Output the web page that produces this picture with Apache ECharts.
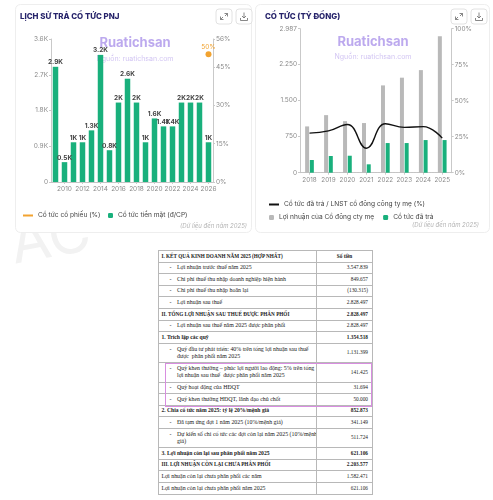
<!DOCTYPE html>
<html><head><meta charset="utf-8">
<script src="https://cdn.jsdelivr.net/npm/echarts@6/dist/echarts.min.js"></script>
<style>
html,body{margin:0;padding:0;background:#fff;}
#c{position:absolute;left:0;top:0;width:493px;height:500px;}
#t{position:absolute;left:158px;top:250px;width:214px;border-collapse:collapse;font-family:'Liberation Serif','DejaVu Serif',serif;font-size:5.9px;color:#1a1a1a;background:#fff;border:1px solid #8a8a8a;table-layout:fixed;}
#t td{border:1px solid #b8b8b8;padding:0;line-height:7.4px;height:10.6px;vertical-align:middle;white-space:pre;overflow:hidden;}
#t td.l{padding-left:2.4px;}
#t td.i{padding-left:18px;}
#t td.v{text-align:right;padding-right:4px;font-size:5.3px;}
#t tr.b td{font-weight:bold;}
#t tr.b td.l{font-size:5.65px;}
#t tr.cap td.l{font-size:5.2px;}
#t tr.h td.v{text-align:center;padding-right:0;}
#t .bul{display:inline-block;width:7.4px;margin-left:-7.4px;}
#t tr.d td{height:18.4px;}
#pink{position:absolute;left:165px;top:363px;width:205px;height:42px;border:1px solid #d88ee0;}
</style></head><body>
<div id="c"></div>
<table id="t"><colgroup><col style="width:158px"><col style="width:56px"></colgroup><tbody id="tb"></tbody></table>
<div id="pink"></div>
<script>
// ---- Chart 1: LỊCH SỬ TRẢ CỔ TỨC PNJ ----
const years1 = ['2009','2010','2011','2012','2013','2014','2015','2016','2017','2018','2019','2020','2021','2022','2023','2024','2025','2026'];
const cashDividend = [2900,500,1000,1000,1300,3200,800,2000,2600,2000,1000,1600,1400,1400,2000,2000,2000,1000];
const stockDividend = [null,null,null,null,null,null,null,null,null,null,null,null,null,null,null,null,null,50];

// ---- Chart 2: CỔ TỨC (TỶ ĐỒNG) ----
const years2 = ['2018','2019','2020','2021','2022','2023','2024','2025'];
const parentProfit = [960,1194,1069,1030,1811,1971,2128,2829];
const dividendPaid = [263,346,352,174,615,615,677,677];
const payoutRatio = [27.5,29,33.5,17,34,31.5,32,24];

// ---- Table ----
const tableLabels = [
 'I. KẾT QUẢ KINH DOANH NĂM 2025 (HỢP NHẤT)',
 'Lợi nhuận trước thuế năm 2025',
 'Chi phí thuế thu nhập doanh nghiệp hiện hành',
 'Chi phí thuế thu nhập hoãn lại',
 'Lợi nhuận sau thuế',
 'II. TỔNG LỢI NHUẬN SAU THUẾ ĐƯỢC PHÂN PHỐI',
 'Lợi nhuận sau thuế năm 2025 được phân phối',
 '1. Trích lập các quỹ',
 'Quỹ đầu tư phát triển: 40% trên tổng lợi nhuận sau thuế\nđược  phân phối năm 2025',
 'Quỹ khen thưởng – phúc lợi người lao động: 5% trên tổng\nlợi nhuận sau thuế  được phân phối năm 2025',
 'Quỹ hoạt động của HĐQT',
 'Quỹ khen thưởng HĐQT, lãnh đạo chủ chốt',
 '2. Chia cổ tức năm 2025: tỷ lệ 20%/mệnh giá',
 'Đã tạm ứng đợt 1 năm 2025 (10%/mệnh giá)',
 'Dự kiến số chi cổ tức các đợt còn lại năm 2025 (10%/mệnh\ngiá)',
 '3. Lợi nhuận còn lại sau phân phối năm 2025',
 'III. LỢI NHUẬN CÒN LẠI CHƯA PHÂN PHỐI',
 'Lợi nhuận còn lại chưa phân phối các năm',
 'Lợi nhuận còn lại chưa phân phối năm 2025'
];
const tableValues = ['Số tiền','3.547.839','849.657','(130.315)','2.828.497','2.828.497','2.828.497','1.354.518','1.131.399','141.425','31.694','50.000','852.873','341.149','511.724','621.106','2.203.577','1.582.471','621.106'];
const tableKinds = ['h','i','i','i','i','B','i','b','i','i','i','i','b','i','i','b','B','p','p'];

const tb = document.getElementById('tb');
tableLabels.forEach((lab, k) => {
  const kind = tableKinds[k];
  const tr = document.createElement('tr');
  const cls = [];
  if (kind === 'h' || kind === 'b' || kind === 'B') cls.push('b');
  if (kind === 'h' || kind === 'B') cls.push('cap');
  if (kind === 'h') cls.push('h');
  if (lab.indexOf('\n') >= 0) cls.push('d');
  tr.className = cls.join(' ');
  const td1 = document.createElement('td');
  const td2 = document.createElement('td');
  if (kind === 'i') {
    td1.className = 'i';
    td1.innerHTML = '<span class="bul">-</span>';
    td1.appendChild(document.createTextNode(lab));
  } else {
    td1.className = 'l';
    td1.textContent = lab;
  }
  td2.className = 'v';
  td2.textContent = tableValues[k];
  tr.appendChild(td1); tr.appendChild(td2);
  tb.appendChild(tr);
});

const FONT = 'Inter, "Noto Sans", sans-serif';
const GREEN = '#19b07c';
const AX = '#c9c9c9';
const LBL = '#8a8a8a';

function icons(x, y) {
  const s = {stroke: '#6a6a6a', lineWidth: 0.8, fill: null};
  return [
    {type:'rect', shape:{x:x, y:y, width:16, height:15, r:3}, style:{fill:'#fff', stroke:'#e2e2e2', lineWidth:1}},
    {type:'polyline', shape:{points:[[x+8.5,y+4.5],[x+11.5,y+4.5],[x+11.5,y+7.5]]}, style:s},
    {type:'line', shape:{x1:x+11.5,y1:y+4.5,x2:x+9,y2:y+7}, style:s},
    {type:'polyline', shape:{points:[[x+4.5,y+7.5],[x+4.5,y+10.5],[x+7.5,y+10.5]]}, style:s},
    {type:'line', shape:{x1:x+4.5,y1:y+10.5,x2:x+7,y2:y+8}, style:s},
    {type:'rect', shape:{x:x+20, y:y, width:16, height:15, r:3}, style:{fill:'#fff', stroke:'#e2e2e2', lineWidth:1}},
    {type:'line', shape:{x1:x+28,y1:y+3.5,x2:x+28,y2:y+9}, style:s},
    {type:'polyline', shape:{points:[[x+26,y+7],[x+28,y+9],[x+30,y+7]]}, style:s},
    {type:'polyline', shape:{points:[[x+24.5,y+9],[x+24.5,y+11.5],[x+31.5,y+11.5],[x+31.5,y+9]]}, style:s}
  ];
}

const dotFmt = v => String(Math.round(v)).replace(/\B(?=(\d{3})+(?!\d))/g, '.');
const kFmt = v => v === 0 ? '0' : (v / 1000) + 'K';

const chart = echarts.init(document.getElementById('c'), null, {renderer: 'canvas'});
const LEG = {fontSize:6.6, color:'#444', fontFamily:FONT};
const option = {
  animation: false,
  backgroundColor: '#fff',
  textStyle: {fontFamily: FONT},
  graphic: [
    {type:'text', z:-10, rotation:0.18, x:6, y:218, style:{text:'ẦC', fontSize:58, fontFamily:FONT, fill:'#f2f2f2'}},
    {type:'rect', z:-5, shape:{x:15.5, y:4.5, width:236, height:228, r:5}, style:{fill:'#fff', stroke:'#eeeeee', lineWidth:1}},
    {type:'rect', z:-5, shape:{x:255.5, y:4.5, width:234, height:228, r:5}, style:{fill:'#fff', stroke:'#eeeeee', lineWidth:1}},
    {type:'text', x:20, y:17, style:{text:'LỊCH SỬ TRẢ CỔ TỨC PNJ', fontSize:7.9, fontWeight:800, fontFamily:FONT, fill:'#27246b', verticalAlign:'middle'}},
    {type:'text', x:265, y:17, style:{text:'CỔ TỨC (TỶ ĐỒNG)', fontSize:7.9, fontWeight:800, fontFamily:FONT, fill:'#27246b', verticalAlign:'middle'}},
    {type:'text', x:135, y:43, style:{text:'Ruatichsan', fontSize:13, fontWeight:'bold', fontFamily:FONT, fill:'rgba(165,140,232,0.75)', align:'center', verticalAlign:'middle'}},
    {type:'text', x:135, y:59, style:{text:'Nguồn: ruatichsan.com', fontSize:7, fontFamily:FONT, fill:'rgba(165,140,232,0.5)', align:'center', verticalAlign:'middle'}},
    {type:'text', x:373, y:42, style:{text:'Ruatichsan', fontSize:13, fontWeight:'bold', fontFamily:FONT, fill:'rgba(165,140,232,0.75)', align:'center', verticalAlign:'middle'}},
    {type:'text', x:373, y:57, style:{text:'Nguồn: ruatichsan.com', fontSize:7, fontFamily:FONT, fill:'rgba(165,140,232,0.5)', align:'center', verticalAlign:'middle'}},
    {type:'text', x:247, y:226, style:{text:'(Dữ liệu đến năm 2025)', fontSize:6, fontStyle:'italic', fontFamily:FONT, fill:'#b3b3b3', align:'right', verticalAlign:'middle'}},
    {type:'text', x:479, y:225, style:{text:'(Dữ liệu đến năm 2025)', fontSize:6, fontStyle:'italic', fontFamily:FONT, fill:'#b3b3b3', align:'right', verticalAlign:'middle'}},
    ...icons(216, 9),
    ...icons(451, 9)
  ],
  legend: [
    {data:['Cổ tức cổ phiếu (%)'], left:18, top:207, icon:'rect', itemWidth:10, itemHeight:2, selectedMode:false, textStyle:LEG},
    {data:['Cổ tức tiền mặt (đ/CP)'], left:103, top:207, icon:'roundRect', itemWidth:5, itemHeight:5, selectedMode:false, textStyle:LEG},
    {data:['Cổ tức đã trả / LNST cổ đông công ty mẹ (%)'], left:264, top:196, icon:'rect', itemWidth:10, itemHeight:2, selectedMode:false, textStyle:LEG},
    {data:['Lợi nhuận của Cổ đông cty mẹ','Cổ tức đã trả'], left:264, top:209, icon:'roundRect', itemWidth:5, itemHeight:5, itemGap:9, selectedMode:false, textStyle:LEG}
  ],
  grid: [
    {left:51, top:39, width:162, height:143},
    {left:300, top:28.7, width:151.7, height:144}
  ],
  xAxis: [
    {type:'category', gridIndex:0, data:years1, boundaryGap:true,
     axisLine:{lineStyle:{color:AX}},
     axisTick:{show:true, length:2, alignWithLabel:true, interval:(i,v)=>(+v)%2===0, lineStyle:{color:AX}},
     axisLabel:{interval:(i,v)=>(+v)%2===0, fontSize:6.5, color:LBL, margin:4}},
    {type:'category', gridIndex:0, data:years1, position:'top',
     axisLine:{lineStyle:{color:'#c4c4c4', type:[1.5,1.5]}}, axisTick:{show:false}, axisLabel:{show:false}},
    {type:'category', gridIndex:1, data:years2, boundaryGap:true,
     axisLine:{lineStyle:{color:AX}},
     axisTick:{show:true, length:2, alignWithLabel:true, interval:0, lineStyle:{color:AX}},
     axisLabel:{interval:0, fontSize:6.3, color:LBL, margin:4}},
    {type:'category', gridIndex:1, data:years2, position:'top',
     axisLine:{lineStyle:{color:'#c4c4c4', type:[1.5,1.5]}}, axisTick:{show:false}, axisLabel:{show:false}}
  ],
  yAxis: [
    {type:'value', gridIndex:0, min:0, max:3600, interval:900, splitLine:{show:false},
     axisLine:{show:true, lineStyle:{color:AX}}, axisTick:{show:true, length:2, lineStyle:{color:AX}},
     axisLabel:{formatter:kFmt, fontSize:6.5, color:LBL, margin:3}},
    {type:'value', gridIndex:0, min:0, max:56, interval:15, position:'right', splitLine:{show:false},
     axisLine:{show:true, lineStyle:{color:AX}}, axisTick:{show:true, length:2, lineStyle:{color:AX}},
     axisLabel:{formatter:'{value}%', fontSize:6.5, color:LBL, margin:3}},
    {type:'value', gridIndex:1, min:0, max:2987, interval:750, splitLine:{show:false},
     axisLine:{show:true, lineStyle:{color:AX}}, axisTick:{show:true, length:2, lineStyle:{color:AX}},
     axisLabel:{formatter:dotFmt, fontSize:6.5, color:LBL, margin:3}},
    {type:'value', gridIndex:1, min:0, max:100, interval:25, position:'right', splitLine:{show:false},
     axisLine:{show:true, lineStyle:{color:AX}}, axisTick:{show:true, length:2, lineStyle:{color:AX}},
     axisLabel:{formatter:'{value}%', fontSize:6.5, color:LBL, margin:3}}
  ],
  series: [
    {name:'Cổ tức tiền mặt (đ/CP)', type:'bar', xAxisIndex:0, yAxisIndex:0, data:cashDividend, barWidth:5.5,
     itemStyle:{color:GREEN},
     label:{show:true, position:'top', distance:1, formatter:p=>kFmt(p.value), fontSize:6.5, fontWeight:'bold', color:'#444', fontFamily:FONT}},
    {name:'Cổ tức cổ phiếu (%)', type:'line', xAxisIndex:0, yAxisIndex:1, data:stockDividend, symbol:'circle', symbolSize:6,
     itemStyle:{color:'#f2a330'}, lineStyle:{color:'#f2a330'},
     label:{show:true, position:'top', distance:1, formatter:'{c}%', fontSize:6.5, color:'#f2a330', fontFamily:FONT}},
    {name:'Lợi nhuận của Cổ đông cty mẹ', type:'bar', xAxisIndex:2, yAxisIndex:2, data:parentProfit, barWidth:4, barGap:'18%',
     itemStyle:{color:'#b9b9b9'}},
    {name:'Cổ tức đã trả', type:'bar', xAxisIndex:2, yAxisIndex:2, data:dividendPaid, barWidth:4, barGap:'18%',
     itemStyle:{color:GREEN}},
    {name:'Cổ tức đã trả / LNST cổ đông công ty mẹ (%)', type:'line', xAxisIndex:2, yAxisIndex:3, data:payoutRatio,
     smooth:0.45, showSymbol:false, symbol:'none', itemStyle:{color:'#111'}, lineStyle:{color:'#111', width:1.4}}
  ]
};
chart.setOption(option);
</script>
</body></html>
